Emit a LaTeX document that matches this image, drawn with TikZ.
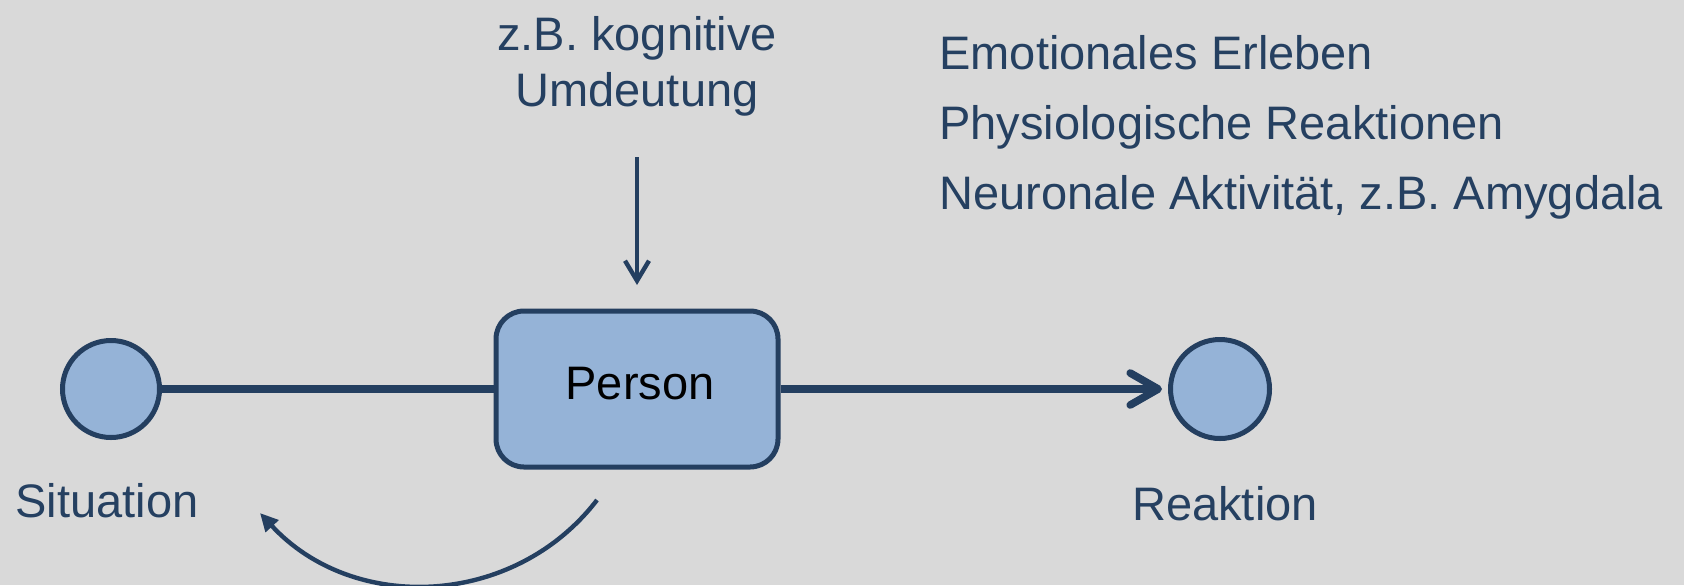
\documentclass[tikz,border=0pt]{standalone}
\usepackage{fontspec}
\setmainfont{Liberation Sans}
\usetikzlibrary{arrows.meta}
\definecolor{bg}{HTML}{D9D9D9}
\definecolor{navy}{HTML}{243F60}
\definecolor{txt}{HTML}{254061}
\definecolor{fillb}{HTML}{95B3D7}
\begin{document}
\begin{tikzpicture}[x=0.5pt,y=-0.5pt,
  lbl/.style={text=txt,font=\fontsize{23.5}{28}\selectfont,inner sep=0pt},
  dot/.style={circle,draw=navy,line width=2.5pt,fill=fillb,inner sep=0pt},
  pbox/.style={rectangle,rounded corners=14pt,draw=navy,line width=2.5pt,fill=fillb,
    minimum width=141pt,minimum height=78pt,inner sep=0pt,
    font=\fontsize{23.5}{28}\selectfont,text=black,text depth=6pt},
  thick line/.style={draw=navy,line width=3.8pt},
  thin line/.style={draw=navy,line width=2.2pt}]
\fill[bg] (0,0) rectangle (1684,585);
\useasboundingbox (0,0) rectangle (1684,585);

\node[dot,minimum size=48.5pt] (sit) at (111,389) {};
\node[dot,minimum size=49.5pt] (rea) at (1220,389) {};
\node[pbox] (per) at (637,389) {\hspace*{3pt}Person};

\node[lbl,anchor=base] (sitl) at (107,517) {Situation};
\node[lbl,anchor=base] (real) at (1225,520) {Reaktion};
\node[lbl,anchor=base,align=center] (cog) at (637,106) {z.B. kognitive\\Umdeutung};
\node[lbl,anchor=base west,align=left,font=\fontsize{23.5}{34.8}\selectfont] (resp) at (939,209)
  {Emotionales Erleben\\Physiologische Reaktionen\\Neuronale Aktivität, z.B. Amygdala};

\draw[thick line] (sit) -- (per);
\draw[thick line,-{Straight Barb[length=14pt,width=16pt,round]},shorten >=3pt] (per) -- (rea);

\coordinate (ca) at (637,157);
\coordinate (cb) at (637,285);
\draw[thin line,-{Straight Barb[length=10pt,width=12pt]}] (ca) -- (cb);

\coordinate (fa) at (597,500);
\coordinate (fb) at (260,513);
\draw[thin line,-{Triangle[length=9pt,width=8.5pt]}] (fa) .. controls (514,608) and (353,614) .. (fb);
\end{tikzpicture}
\end{document}
